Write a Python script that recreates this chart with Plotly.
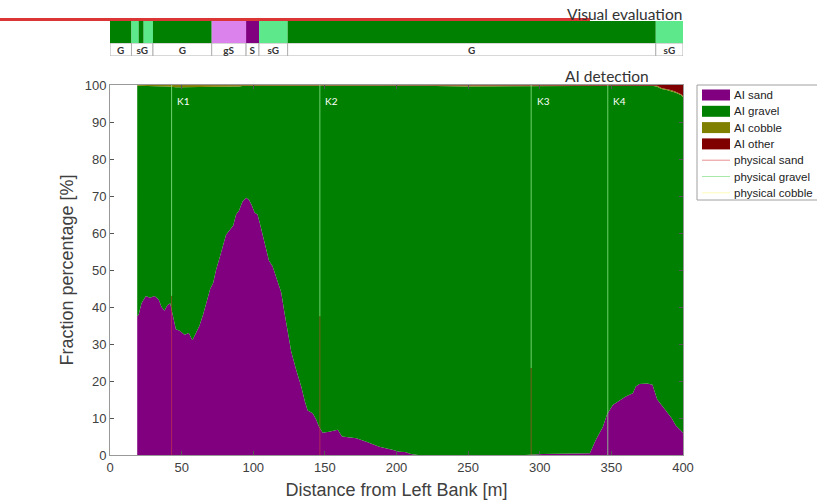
import plotly.graph_objects as go

# ---------------- data ----------------
dist = [19, 20, 22, 25, 28, 31, 34, 36, 38, 40, 42, 44, 46, 49, 52, 55, 57.5, 60, 62.5, 65, 67,
        70, 72, 74, 77, 81, 84, 86, 88, 90, 92.5, 95, 97, 99, 101, 103, 105, 107, 109, 111,
        113.5, 116, 119.5, 122, 124, 126.5, 130, 133.5, 136, 138, 141.5, 144, 146, 148.5, 153,
        156, 159, 162, 167, 172, 179, 188, 197, 202, 206, 210, 215, 250, 290, 302, 320, 335,
        339, 344, 347, 351, 356, 360, 365, 367, 369.6, 375, 378.7, 382, 385, 388, 392, 395,
        398.7, 400]
ai_sand = [37.5, 38, 41, 43, 42.5, 43, 42, 40, 39, 40.5, 41, 37, 34, 33.5, 32.5, 33, 31, 33, 35,
           38, 41, 45, 46.5, 50, 54, 59.5, 61, 62, 65, 66, 68.5, 69.5, 69, 67.5, 65.5, 65, 62,
           59, 56, 52.5, 51, 48, 44, 38, 33, 28, 23, 18.5, 14.5, 12, 11.3, 9.5, 7.6, 6, 6.3,
           6.6, 6.8, 5, 4.8, 4.5, 3.6, 2.2, 1.4, 0.9, 0.8, 0.3, 0, 0, 0, 0.3, 0.4, 0.5,
           4, 7.6, 11, 13.5, 14.8, 15.8, 16.7, 18.5, 19.2, 19.3, 19, 15, 13.5, 12, 10, 8,
           6.5, 6]
ai_cobble = [0.2, 0.2, 0.2, 0.2, 0.2, 0.2, 0.3, 0.3, 0.3, 0.4, 0.5, 0.6, 0.6, 0.6, 0.6, 0.6, 0.6,
             0.6, 0.6, 0.6, 0.6, 0.6, 0.6, 0.6, 0.6, 0.6, 0.6, 0.5, 0.5, 0.4, 0.3, 0.3, 0.3, 0.3,
             0.3, 0.3, 0.3, 0.3, 0.3, 0.3, 0.3, 0.3, 0.2, 0.2, 0.2, 0.2, 0.1, 0.1, 0.1, 0.1, 0.1,
             0.1, 0.1, 0.1, 0.1, 0.1, 0.1, 0.1, 0.1, 0.1, 0.1, 0.1, 0.1, 0.1, 0.1, 0.1, 0.2, 0.4,
             0.4, 0.3, 0.2, 0.2, 0.2, 0.2, 0.2, 0.2, 0.2, 0.2, 0.2, 0.2, 0.2, 0.2, 0.2, 0.3, 0.3,
             0.3, 0.3, 0.3, 0.3, 0.3]
ai_other = [0] * 83 + [0.2, 0.8, 1.0, 1.4, 1.8, 2.5, 3.0]
ai_gravel = [100 - s - c - o for s, c, o in zip(ai_sand, ai_cobble, ai_other)]

# physical samples
phys_name = ["K1", "K2", "K3", "K4"]
phys_x = [43, 146.5, 294, 347.5]
phys_sand = [43, 37.5, 23.5, 0]
phys_gravel = [57, 62.5, 76.5, 100]
phys_cobble = [0, 0, 0, 0]

# visual evaluation segments
vis_start = [0, 15, 20, 23.5, 30, 71, 95, 104, 124, 381]
vis_end = [15, 20, 23.5, 30, 71, 95, 104, 124, 381, 400]
vis_class = ["G", "sG", "G", "sG", "G", "gS", "S", "sG", "G", "sG"]
lab_text = ["G", "sG", "G", "gS", "S", "sG", "G", "sG"]
lab_start = [0, 15, 30, 71, 95, 104, 124, 381]
lab_end = [15, 30, 71, 95, 104, 124, 381, 400]

# ---------------- style ----------------
C_SAND, C_GRAVEL, C_COBBLE, C_OTHER = "#800080", "#008000", "#808000", "#800000"
C_PSAND, C_PGRAV, C_PCOB = "rgba(215,70,60,0.55)", "rgba(150,235,150,0.75)", "rgba(255,255,150,0.9)"
CLASS_COL = {"G": "#008000", "sG": "#5ee88c", "gS": "#dc82ec", "S": "#800080"}
FONT = "Liberation Sans, Arial, sans-serif"
CAL = "Lato, Open Sans, sans-serif"

# body margin is removed by post_script, so the figure fills the 817x504 window
W, H = 817, 504
L, R, T, B = 110, 134, 10, 49
PW, PH = W - L - R, H - T - B


def px(X):  # screen x -> paper
    return (X - L) / PW


def py(Y):  # screen y -> paper
    return (H - B - Y) / PH


fig = go.Figure()

for name, vals, col in [("AI sand", ai_sand, C_SAND), ("AI gravel", ai_gravel, C_GRAVEL),
                        ("AI cobble", ai_cobble, C_COBBLE), ("AI other", ai_other, C_OTHER)]:
    fig.add_trace(go.Scatter(x=dist, y=vals, name=name, stackgroup="ai", mode="lines",
                             line=dict(width=0, color=col), fillcolor=col, showlegend=False))


def segs(xs, lo, hi):
    sx, sy = [], []
    for x, a, b in zip(xs, lo, hi):
        sx += [x, x, None]
        sy += [a, b, None]
    return sx, sy


low = [0] * len(phys_x)
mid = phys_sand
top = [s + g for s, g in zip(phys_sand, phys_gravel)]
top2 = [t + c for t, c in zip(top, phys_cobble)]
for name, lo, hi, col in [("physical sand", low, mid, C_PSAND),
                          ("physical gravel", mid, top, C_PGRAV),
                          ("physical cobble", top, top2, C_PCOB)]:
    sx, sy = segs(phys_x, lo, hi)
    fig.add_trace(go.Scatter(x=sx, y=sy, name=name, mode="lines", showlegend=False,
                             line=dict(width=1, color=col)))

# visual evaluation colour band
fig.add_trace(go.Bar(x=[e - s for s, e in zip(vis_start, vis_end)], base=vis_start,
                     y=[0] * len(vis_start), orientation="h", width=1,
                     marker=dict(color=[CLASS_COL[c] for c in vis_class], line=dict(width=0)),
                     xaxis="x2", yaxis="y2", showlegend=False, hoverinfo="skip"))
# label band
fig.add_trace(go.Bar(x=[e - s for s, e in zip(lab_start, lab_end)], base=lab_start,
                     y=[0] * len(lab_start), orientation="h", width=1,
                     marker=dict(color="white", line=dict(width=1, color="#b0b0b0")),
                     text=lab_text, textposition="inside", insidetextanchor="middle",
                     textangle=0, constraintext="none", cliponaxis=False,
                     textfont=dict(family=CAL, size=10, color="#333333", weight="bold"),
                     xaxis="x2", yaxis="y3", showlegend=False, hoverinfo="skip"))

for n, x in zip(phys_name, phys_x):
    fig.add_annotation(x=x + 2.5, y=95.8, xref="x", yref="y", text=n, showarrow=False,
                       xanchor="left", yanchor="middle",
                       font=dict(family=CAL, size=10, color="white"))

fig.add_annotation(x=px(684), y=py(14.5), xref="paper", yref="paper", text="Visual evaluation",
                   showarrow=False, xanchor="right", yanchor="middle",
                   font=dict(family=CAL, size=15.5, color="#333333"))
fig.add_annotation(x=px(651), y=py(76), xref="paper", yref="paper", text="AI detection",
                   showarrow=False, xanchor="right", yanchor="middle",
                   font=dict(family=CAL, size=15.5, color="#333333"))

fig.add_shape(type="line", xref="paper", yref="paper", x0=px(0), x1=px(590),
              y0=py(19.5), y1=py(19.5), line=dict(color="#dc3535", width=3))

# ---- legend (drawn by hand to match the compact MATLAB legend) ----
leg_names = ["AI sand", "AI gravel", "AI cobble", "AI other",
             "physical sand", "physical gravel", "physical cobble"]
leg_cols = [C_SAND, C_GRAVEL, C_COBBLE, C_OTHER, "#e89090", "#a8e8a8", "#fbfbb8"]
leg_kind = ["patch"] * 4 + ["line"] * 3
fig.add_shape(type="rect", xref="paper", yref="paper", x0=px(697), x1=px(840),
              y0=py(200), y1=py(85), line=dict(color="#a0a0a0", width=1),
              fillcolor="white", layer="above")
for i, (nm, col, kind) in enumerate(zip(leg_names, leg_cols, leg_kind)):
    yc = 95 + i * 16.3
    if kind == "patch":
        fig.add_shape(type="rect", xref="paper", yref="paper", x0=px(702), x1=px(730),
                      y0=py(yc + 5.5), y1=py(yc - 5.5), line=dict(width=0),
                      fillcolor=col, layer="above")
    else:
        fig.add_shape(type="line", xref="paper", yref="paper", x0=px(702), x1=px(730),
                      y0=py(yc), y1=py(yc), line=dict(width=1, color=col), layer="above")
    fig.add_annotation(x=px(732), y=py(yc), xref="paper", yref="paper", text=nm,
                       showarrow=False, xanchor="left", yanchor="middle",
                       font=dict(family=FONT, size=11.5, color="#222222"))

axis_common = dict(showline=True, linecolor="#999999", linewidth=1, mirror="ticks",
                   ticks="inside", ticklen=4, tickcolor="#555555", showgrid=False,
                   zeroline=False, automargin=False,
                   tickfont=dict(family=FONT, size=13, color="#404040"))
hidden = dict(showticklabels=False, showline=False, showgrid=False, zeroline=False,
              ticks="", automargin=False)

fig.update_layout(
    width=W, height=H,
    margin=dict(l=L, r=R, t=T, b=B, autoexpand=False),
    paper_bgcolor="white", plot_bgcolor="white",
    xaxis=dict(range=[0, 400], domain=[0, 1], tickvals=list(range(0, 401, 50)),
               title=dict(text="Distance from Left Bank [m]", standoff=9,
                          font=dict(family=FONT, size=18, color="#404040")),
               **axis_common),
    yaxis=dict(range=[0, 100], domain=[0, py(85)], tickvals=list(range(0, 101, 10)),
               title=dict(text="Fraction percentage [%]", standoff=6,
                          font=dict(family=FONT, size=18, color="#404040")),
               **axis_common),
    xaxis2=dict(range=[0, 400], domain=[0, 1], anchor="y3", **hidden),
    yaxis2=dict(range=[-0.5, 0.5], domain=[py(43), py(21)], anchor="x2", **hidden),
    yaxis3=dict(range=[-0.5, 0.5], domain=[py(56), py(43)], anchor="x2", **hidden),
    barmode="overlay",
    showlegend=False,
)

fig.write_html("out.html", config={"displayModeBar": False},
               post_script="document.body.style.margin='0px';document.body.style.overflow='hidden';")
